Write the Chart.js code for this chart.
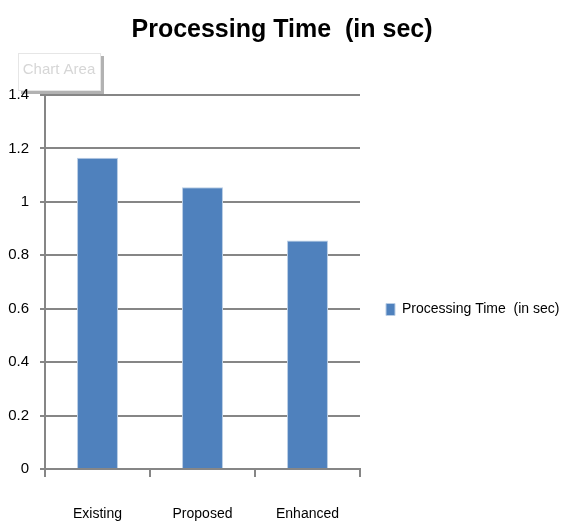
<!DOCTYPE html>
<html>
<head>
<meta charset="utf-8">
<script src="https://cdn.jsdelivr.net/npm/chart.js@4"></script>
<style>
html,body{margin:0;padding:0;background:#fff;}
#wrap{width:561px;height:524px;}
</style>
</head>
<body>
<div id="wrap"><canvas id="c" width="561" height="524"></canvas></div>
<script>
const categories = ["Existing", "Proposed", "Enhanced"];
const seriesName = "Processing Time  (in sec)";
const seriesValues = [1.165, 1.055, 0.855];
const yTicks = [0, 0.2, 0.4, 0.6, 0.8, 1, 1.2, 1.4];
const chartTitle = "Processing Time  (in sec)";
const hoverLabel = "Chart Area";

const FONT = "'Liberation Sans', Arial, sans-serif";

const tooltipBox = {
  id: 'tooltipBox',
  beforeDraw(chart) {
    const ctx = chart.ctx;
    ctx.save();
    ctx.fillStyle = 'rgba(0,0,0,0.30)';
    ctx.fillRect(21, 56, 83, 38);
    ctx.fillStyle = '#ffffff';
    ctx.fillRect(18, 53, 83, 38);
    ctx.strokeStyle = '#e6e6e6';
    ctx.lineWidth = 1;
    ctx.strokeRect(18.5, 53.5, 82, 37);
    ctx.fillStyle = '#d6d6d6';
    ctx.font = "15px " + FONT;
    ctx.textBaseline = 'middle';
    ctx.textAlign = 'center';
    ctx.fillText(hoverLabel, 59, 70);
    ctx.restore();
  }
};

const boxPlacer = {
  id: 'boxPlacer',
  afterLayout(chart) {
    const lg = chart.legend;
    if (lg) {
      lg.left = 376; lg.right = chart.width;
      lg.width = lg.right - lg.left;
      lg.top = chart.chartArea.top; lg.bottom = chart.height;
      lg.height = lg.bottom - lg.top;
    }
    const tb = chart.titleBlock;
    if (tb) {
      tb.left = 0; tb.right = 564; tb.width = 564;
    }
  }
};

new Chart(document.getElementById('c'), {
  type: 'bar',
  data: {
    labels: categories,
    datasets: [{
      label: seriesName,
      data: seriesValues,
      backgroundColor: '#4F81BD',
      borderColor: '#B9CDE5',
      borderWidth: 1,
      barPercentage: 0.39,
      categoryPercentage: 1.0
    }]
  },
  options: {
    responsive: false,
    animation: false,
    devicePixelRatio: 1,
    layout: { padding: { left: 0, right: 81, top: 0, bottom: 0 } },
    plugins: {
      tooltip: { enabled: false },
      title: {
        display: true,
        text: chartTitle,
        color: '#000',
        font: { family: FONT, size: 25, weight: 'bold', lineHeight: 1.2 },
        padding: { top: 15, bottom: 50 }
      },
      legend: {
        display: true,
        position: 'right',
        align: 'center',
        labels: {
          color: '#000',
          font: { family: FONT, size: 14 },
          boxWidth: 9,
          boxHeight: 12,
          padding: 10
        }
      }
    },
    scales: {
      x: {
        offset: true,
        afterFit(scale) { scale.height = 55; },
        grid: {
          offset: true,
          drawOnChartArea: false,
          drawTicks: true,
          tickLength: 8,
          color: '#868686',
          lineWidth: 2
        },
        border: { color: '#868686', width: 2 },
        ticks: {
          color: '#000',
          font: { family: FONT, size: 14 },
          padding: 29
        }
      },
      y: {
        min: 0,
        max: 1.4,
        afterFit(scale) { scale.width = 45; },
        afterBuildTicks(scale) {
          scale.ticks = yTicks.map(v => ({ value: v }));
        },
        grid: {
          color: '#868686',
          lineWidth: 2,
          tickLength: 5
        },
        border: { color: '#868686', width: 2 },
        ticks: {
          color: '#000',
          font: { family: FONT, size: 15 },
          padding: 11,
          callback: v => String(v)
        }
      }
    }
  },
  plugins: [tooltipBox, boxPlacer]
});
</script>
</body>
</html>
